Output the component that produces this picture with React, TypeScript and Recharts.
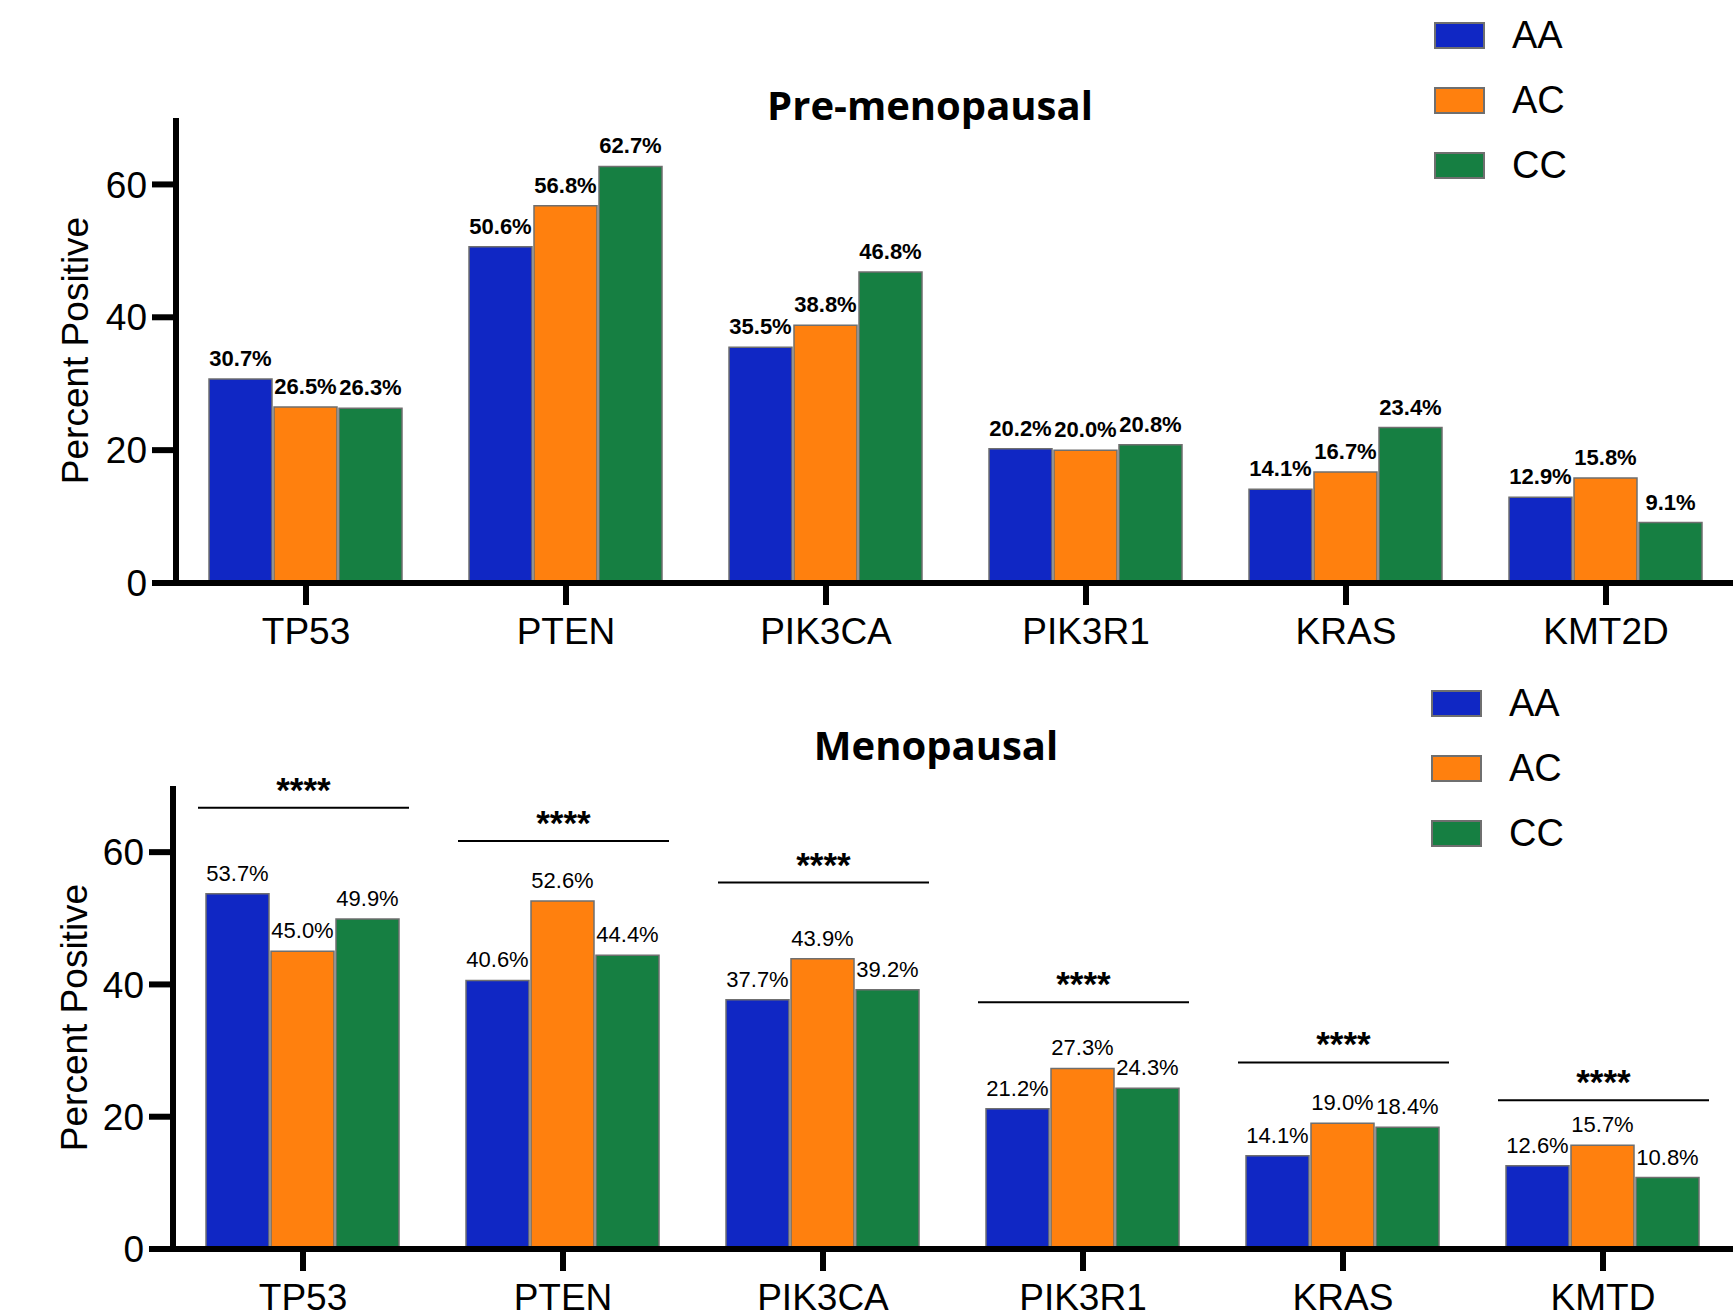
import React from 'react';
import { BarChart, Bar, XAxis, YAxis, LabelList, Legend } from 'recharts';

const preGenes = ['TP53', 'PTEN', 'PIK3CA', 'PIK3R1', 'KRAS', 'KMT2D'];
const preAA = [30.7, 50.6, 35.5, 20.2, 14.1, 12.9];
const preAC = [26.5, 56.8, 38.8, 20.0, 16.7, 15.8];
const preCC = [26.3, 62.7, 46.8, 20.8, 23.4, 9.1];

const menoGenes = ['TP53', 'PTEN', 'PIK3CA', 'PIK3R1', 'KRAS', 'KMTD'];
const menoAA = [53.7, 40.6, 37.7, 21.2, 14.1, 12.6];
const menoAC = [45.0, 52.6, 43.9, 27.3, 19.0, 15.7];
const menoCC = [49.9, 44.4, 39.2, 24.3, 18.4, 10.8];
const menoSig = [66.7, 61.7, 55.4, 37.3, 28.2, 22.5];
const menoSigText = ['****', '****', '****', '****', '****', '****'];

const groups = ['AA', 'AC', 'CC'];
const groupColors = ['#1027C4', '#FF800E', '#167F42'];
const yTicks = [0, 20, 40, 60];
const yDomain = [0, 70];
const titles = ['Pre-menopausal', 'Menopausal'];

const preData = preGenes.map((g, i) => ({ gene: g, AA: preAA[i], AC: preAC[i], CC: preCC[i] }));
const menoData = menoGenes.map((g, i) => ({
  gene: g, AA: menoAA[i], AC: menoAC[i], CC: menoCC[i], sig: menoSig[i], sigText: menoSigText[i],
}));

const ARIAL = '"Liberation Sans", Arial, sans-serif';
const STROKE = '#6f6f6f';

const fmt = (v: any) => `${Number(v).toFixed(1)}%`;

const YLabel = (props: any) => {
  const vb = props.viewBox || {};
  const cx = vb.x + vb.width / 2;
  const cy = vb.y + vb.height / 2;
  return (
    <text
      x={cx}
      y={cy}
      transform={`rotate(-90, ${cx}, ${cy})`}
      textAnchor="middle"
      fontSize={37}
      fontFamily={ARIAL}
      fill="#000"
    >
      Percent Positive
    </text>
  );
};

const SigShape = (props: any) => {
  const { x, y, width, payload } = props;
  if (x == null || y == null) return null;
  return (
    <g>
      <line x1={x} x2={x + width} y1={y} y2={y} stroke="#000" strokeWidth={2} />
      <text
        x={x + width / 2}
        y={y - 6}
        textAnchor="middle"
        fontSize={35}
        fontWeight="bold"
        fontFamily={ARIAL}
        fill="#000"
      >
        {payload.sigText}
      </text>
    </g>
  );
};

const LegendContent = () => (
  <div>
    {groups.map((g, i) => (
      <div key={g} style={{ display: 'flex', alignItems: 'center', height: 27, marginBottom: 38 }}>
        <div
          style={{
            width: 51,
            height: 27,
            boxSizing: 'border-box',
            background: groupColors[i],
            border: `2px solid ${STROKE}`,
          }}
        />
        <span style={{ marginLeft: 27, fontSize: 38, fontFamily: ARIAL, lineHeight: '27px', color: '#000' }}>{g}</span>
      </div>
    ))}
  </div>
);

type PanelProps = {
  data: any[];
  width: number;
  height: number;
  top: number;
  yWidth: number;
  bold: boolean;
  legendLeft: number;
  legendTop: number;
  sig?: boolean;
};

const Panel = ({ data, width, height, top, yWidth, bold, legendLeft, legendTop, sig }: PanelProps) => (
  <BarChart
    width={width}
    height={height}
    data={data}
    margin={{ top, right: 0, left: 0, bottom: 0 }}
    barCategoryGap={33}
    barGap={2}
  >
    <XAxis
      dataKey="gene"
      height={80}
      tickSize={22}
      tickMargin={13}
      axisLine={{ stroke: '#000', strokeWidth: 6 }}
      tickLine={{ stroke: '#000', strokeWidth: 6 }}
      tick={{ fontSize: 37, fontFamily: ARIAL, fill: '#000' }}
      interval={0}
    />
    {sig && <XAxis xAxisId="sig" dataKey="gene" hide />}
    <YAxis
      width={yWidth}
      domain={yDomain}
      ticks={yTicks}
      type="number"
      tickSize={24}
      tickMargin={5}
      axisLine={{ stroke: '#000', strokeWidth: 6 }}
      tickLine={{ stroke: '#000', strokeWidth: 6 }}
      tick={{ fontSize: 37, fontFamily: ARIAL, fill: '#000' }}
      label={{ value: 'Percent Positive', content: YLabel }}
    />
    <Legend
      layout="horizontal"
      verticalAlign="middle"
      align="center"
      content={LegendContent}
      wrapperStyle={{ position: 'absolute', left: legendLeft, top: legendTop, width: 200 }}
    />
    {groups.map((g, i) => (
      <Bar
        key={g}
        dataKey={g}
        name={g}
        fill={groupColors[i]}
        stroke={STROKE}
        strokeWidth={1.5}
        isAnimationActive={false}
      >
        <LabelList
          dataKey={g}
          position="top"
          offset={13}
          formatter={fmt}
          fontSize={22}
          fontWeight={bold ? 'bold' : 'normal'}
          fontFamily={ARIAL}
          fill="#000"
        />
      </Bar>
    ))}
    {sig && (
      <Bar
        xAxisId="sig"
        dataKey="sig"
        barSize={211}
        legendType="none"
        shape={SigShape}
        isAnimationActive={false}
      />
    )}
  </BarChart>
);

export default function App() {
  return (
    <div
      style={{
        position: 'absolute',
        left: 0,
        top: 0,
        width: 1733,
        height: 1311,
        overflow: 'hidden',
        background: '#fff',
      }}
    >
      <div style={{ position: 'absolute', left: 0, top: 0 }}>
        <Panel
          data={preData}
          width={1736}
          height={663}
          top={118}
          yWidth={176}
          bold={true}
          legendLeft={1434}
          legendTop={22}
        />
      </div>
      <div style={{ position: 'absolute', left: 0, top: 660 }}>
        <Panel
          data={menoData}
          width={1733}
          height={669}
          top={126}
          yWidth={173}
          bold={false}
          legendLeft={1431}
          legendTop={30}
          sig
        />
      </div>
      <svg
        width={1733}
        height={1311}
        style={{ position: 'absolute', left: 0, top: 0, pointerEvents: 'none' }}
      >
        <text x={930} y={120} textAnchor="middle" fontSize={40} fontWeight="bold" fontFamily='"Open Sans", sans-serif' fill="#000">
          {titles[0]}
        </text>
        <text x={936} y={760} textAnchor="middle" fontSize={40} fontWeight="bold" fontFamily='"Open Sans", sans-serif' fill="#000">
          {titles[1]}
        </text>
      </svg>
    </div>
  );
}
